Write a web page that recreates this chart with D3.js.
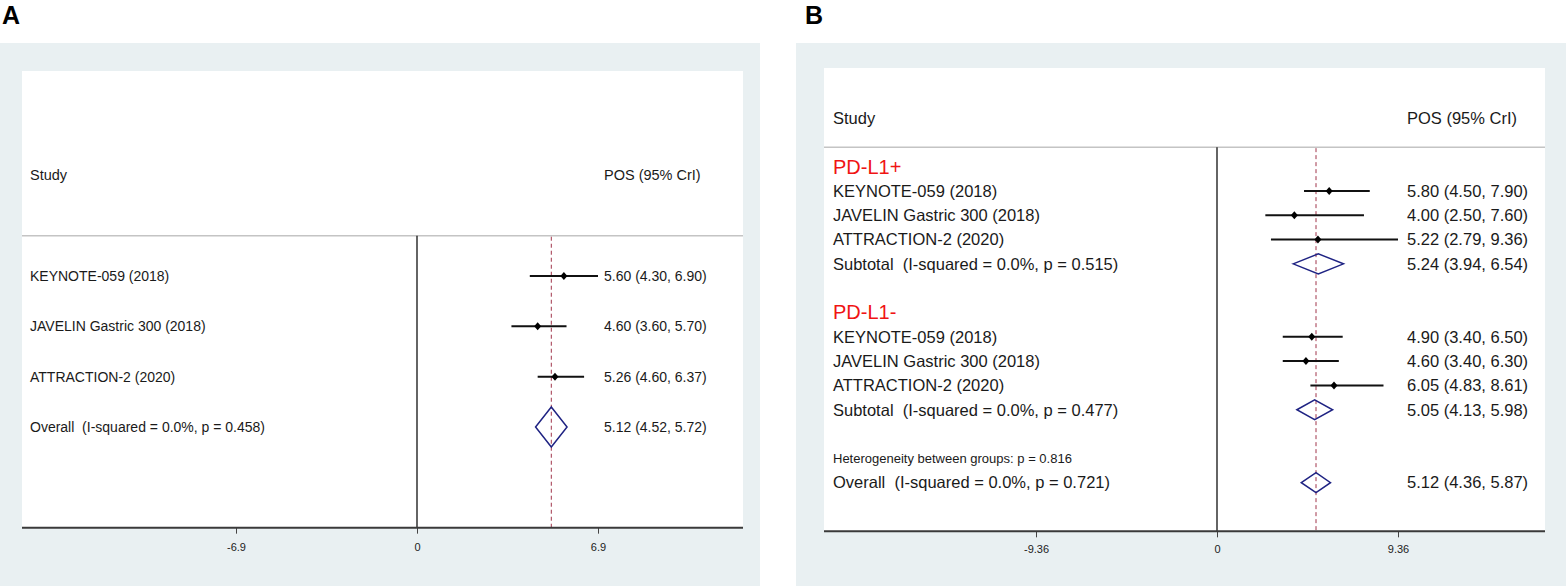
<!DOCTYPE html>
<html>
<head>
<meta charset="utf-8">
<script src="https://cdn.jsdelivr.net/npm/d3@7"></script>
<style>
  body { margin: 0; background: #fff; }
  text { font-family: "Liberation Sans", Arial, sans-serif; fill: #1a1a1a; white-space: pre; }
</style>
</head>
<body>
<script>
// ---- data ----
var studies = ["KEYNOTE-059 (2018)", "JAVELIN Gastric 300 (2018)", "ATTRACTION-2 (2020)"];

// panel A: all patients
var estA = [5.60, 4.60, 5.26],
    lowA = [4.30, 3.60, 4.60],
    highA = [6.90, 5.70, 6.37];
var overallA = [5.12, 4.52, 5.72];
var overallLabelA = "Overall  (I-squared = 0.0%, p = 0.458)";
var ticksA = [-6.9, 0, 6.9];
var tickLabelsA = ["-6.9", "0", "6.9"];

// panel B: by PD-L1 status
var groupsB = ["PD-L1+", "PD-L1-"];
var estPos = [5.80, 4.00, 5.22],
    lowPos = [4.50, 2.50, 2.79],
    highPos = [7.90, 7.60, 9.36];
var estNeg = [4.90, 4.60, 6.05],
    lowNeg = [3.40, 3.40, 4.83],
    highNeg = [6.50, 6.30, 8.61];
var subtotalPos = [5.24, 3.94, 6.54],
    subtotalNeg = [5.05, 4.13, 5.98],
    overallB = [5.12, 4.36, 5.87];
var subtotalLabels = ["Subtotal  (I-squared = 0.0%, p = 0.515)", "Subtotal  (I-squared = 0.0%, p = 0.477)"];
var heteroLabel = "Heterogeneity between groups: p = 0.816";
var overallLabelB = "Overall  (I-squared = 0.0%, p = 0.721)";
var ticksB = [-9.36, 0, 9.36];
var tickLabelsB = ["-9.36", "0", "9.36"];

var f2 = d3.format(".2f");
function ciText(e, l, h) { return f2(e) + " (" + f2(l) + ", " + f2(h) + ")"; }

// build row lists
var rowsA = [];
studies.forEach(function (s, i) {
  rowsA.push({type: "study", label: s, est: estA[i], lo: lowA[i], hi: highA[i]});
});
rowsA.push({type: "pooled", label: overallLabelA, est: overallA[0], lo: overallA[1], hi: overallA[2]});

var rowsB = [];
[[estPos, lowPos, highPos, subtotalPos], [estNeg, lowNeg, highNeg, subtotalNeg]].forEach(function (g, gi) {
  rowsB.push({type: "group", label: groupsB[gi]});
  studies.forEach(function (s, i) {
    rowsB.push({type: "study", label: s, est: g[0][i], lo: g[1][i], hi: g[2][i]});
  });
  rowsB.push({type: "pooled", label: subtotalLabels[gi], est: g[3][0], lo: g[3][1], hi: g[3][2]});
  rowsB.push({type: "blank"});
});
rowsB.push({type: "note", label: heteroLabel});
rowsB.push({type: "pooled", label: overallLabelB, est: overallB[0], lo: overallB[1], hi: overallB[2]});

var W = 1566, H = 586;
var svg = d3.select("body").append("svg").attr("width", W).attr("height", H);

drawPanel({
  letter: "A", letterX: 2,
  bg: [0, 43, 760, H], white: [22, 71, 743],
  xDomain: [-6.9, 6.9], xRange: [236, 598],
  rowDomain: [0, 3], rowRange: [276, 427],
  ticks: ticksA, tickLabels: tickLabelsA, tickLabelDy: 23,
  textX: 30, valueX: 604, font: 14, headFont: 14.5,
  diamondH: 20, rows: rowsA
});

drawPanel({
  letter: "B", letterX: 805,
  bg: [796, 43, W, H], white: [824, 68, 1545],
  xDomain: [-9.36, 9.36], xRange: [1036, 1398],
  rowDomain: [0, 13], rowRange: [166.6, 482.7],
  ticks: ticksB, tickLabels: tickLabelsB, tickLabelDy: 22,
  textX: 833, valueX: 1407, font: 16.5, headFont: 16.5,
  diamondH: 10, rows: rowsB
});

function drawPanel(c) {
  var x = d3.scaleLinear().domain(c.xDomain).range(c.xRange);
  var y = d3.scaleLinear().domain(c.rowDomain).range(c.rowRange);
  var sepY = y(-0.8), axisY = y(c.rows.length + 1), headY = y(-2);
  var g = svg.append("g");

  g.append("text").attr("x", c.letterX).attr("y", 24)
    .style("font-size", "25px").style("font-weight", "bold").style("fill", "#000")
    .text(c.letter);

  g.append("rect").attr("x", c.bg[0]).attr("y", c.bg[1])
    .attr("width", c.bg[2] - c.bg[0]).attr("height", c.bg[3] - c.bg[1])
    .style("fill", "#e9f0f2");
  g.append("rect").attr("x", c.white[0]).attr("y", c.white[1])
    .attr("width", c.white[2] - c.white[0]).attr("height", axisY - c.white[1])
    .style("fill", "#fff");

  // header
  g.append("text").attr("x", c.textX).attr("y", headY).attr("dy", "0.35em")
    .style("font-size", c.headFont + "px").text("Study");
  g.append("text").attr("x", c.valueX).attr("y", headY).attr("dy", "0.35em")
    .style("font-size", c.headFont + "px").text("POS (95% CrI)");
  g.append("line").attr("x1", c.white[0]).attr("x2", c.white[2])
    .attr("y1", sepY).attr("y2", sepY)
    .style("stroke", "#c4c4c4").style("stroke-width", 1.5);

  // zero line and overall estimate line
  var last = c.rows[c.rows.length - 1];
  g.append("line").attr("x1", x(0)).attr("x2", x(0)).attr("y1", sepY).attr("y2", axisY)
    .style("stroke", "#111").style("stroke-width", 1.3);
  g.append("line").attr("x1", x(last.est)).attr("x2", x(last.est)).attr("y1", sepY + 1).attr("y2", axisY)
    .style("stroke", "#a0354a").style("stroke-width", 1).style("stroke-dasharray", "4,3");

  // axis
  var axis = d3.axisBottom(x).tickValues(c.ticks).tickSize(6)
    .tickFormat(function (d, i) { return c.tickLabels[i]; });
  var ax = g.append("g").attr("transform", "translate(0," + axisY + ")").call(axis);
  ax.select(".domain").remove();
  ax.selectAll(".tick line").style("stroke", "#444");
  ax.selectAll(".tick text").attr("y", c.tickLabelDy).attr("dy", 0)
    .style("font-size", "11px").style("font-family", "'Liberation Sans', Arial, sans-serif")
    .style("fill", "#222");
  g.append("line").attr("x1", c.white[0]).attr("x2", c.white[2]).attr("y1", axisY).attr("y2", axisY)
    .style("stroke", "#3a3a3a").style("stroke-width", 2);

  // rows
  c.rows.forEach(function (r, i) {
    var cy = y(i);
    if (r.type === "blank") return;
    if (r.type === "group") {
      g.append("text").attr("x", c.textX).attr("y", cy).attr("dy", "0.35em")
        .style("font-size", "20px").style("fill", "#f01414").text(r.label);
      return;
    }
    if (r.type === "note") {
      g.append("text").attr("x", c.textX).attr("y", cy).attr("dy", "0.35em")
        .style("font-size", "13px").text(r.label);
      return;
    }
    g.append("text").attr("x", c.textX).attr("y", cy).attr("dy", "0.35em")
      .style("font-size", c.font + "px").text(r.label);
    g.append("text").attr("x", c.valueX).attr("y", cy).attr("dy", "0.35em")
      .style("font-size", c.font + "px").text(ciText(r.est, r.lo, r.hi));

    if (r.type === "study") {
      g.append("line").attr("x1", x(r.lo)).attr("x2", x(r.hi)).attr("y1", cy).attr("y2", cy)
        .style("stroke", "#111").style("stroke-width", 2);
      var px = x(r.est);
      g.append("path")
        .attr("d", "M" + (px - 3.5) + "," + cy + "L" + px + "," + (cy - 4) +
                   "L" + (px + 3.5) + "," + cy + "L" + px + "," + (cy + 4) + "Z")
        .style("fill", "#000");
    } else {
      var h = c.diamondH;
      g.append("path")
        .attr("d", "M" + x(r.lo) + "," + cy + "L" + x(r.est) + "," + (cy - h) +
                   "L" + x(r.hi) + "," + cy + "L" + x(r.est) + "," + (cy + h) + "Z")
        .style("fill", "none").style("stroke", "#1f2383").style("stroke-width", 1.5);
    }
  });
}
</script>
</body>
</html>
